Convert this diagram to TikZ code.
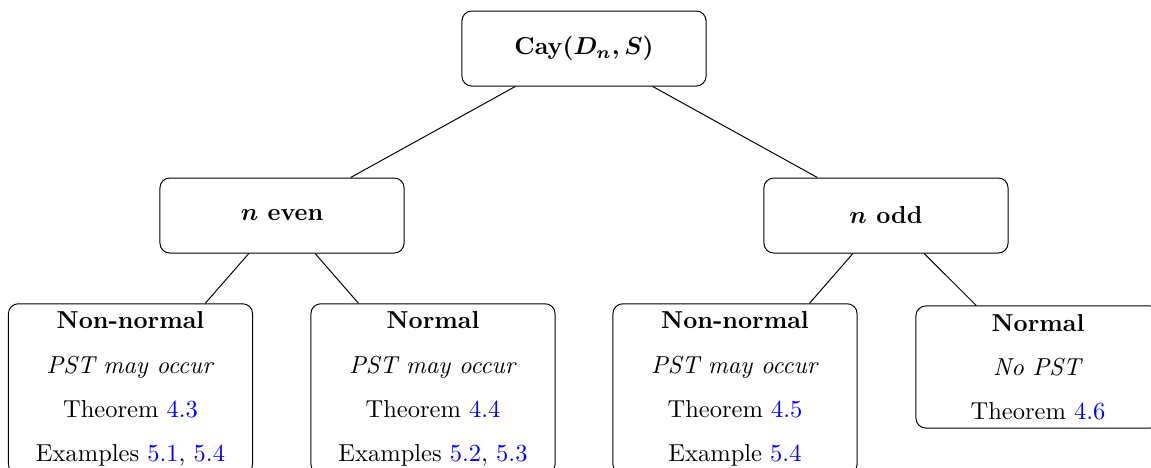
\documentclass[tikz,border=0pt]{standalone}
\usepackage{amsmath}
\begin{document}
\begin{tikzpicture}[x=0.408pt,y=-0.408pt,
  box/.style={draw, rounded corners=4pt, minimum width=99.6pt, align=center,
    font=\fontsize{10}{18}\selectfont, inner sep=3.33pt},
  hbox/.style={draw, rounded corners=4pt, minimum width=99.6pt, minimum height=30.6pt,
    align=center, font=\bfseries\boldmath},
  link/.style={draw, line width=0.4pt}]
\useasboundingbox (0,0) rectangle (1151,467);
\node[hbox] (root) at (584,48.5) {Cay$(D_n,S)$};
\node[hbox] (even) at (282,215.5) {$n$ even};
\node[hbox] (odd) at (886,215.5) {$n$ odd};
\node[box] (a) at (130.5,389) {\textbf{Non-normal}\\ \textit{PST may occur}\\ Theorem \textcolor{blue}{4.3}\\ Examples \textcolor{blue}{5.1}, \textcolor{blue}{5.4}};
\node[box] (b) at (433,389) {\textbf{Normal}\\ \textit{PST may occur}\\ Theorem \textcolor{blue}{4.4}\\ Examples \textcolor{blue}{5.2}, \textcolor{blue}{5.3}};
\node[box] (c) at (735,389) {\textbf{Non-normal}\\ \textit{PST may occur}\\ Theorem \textcolor{blue}{4.5}\\ Example \textcolor{blue}{5.4}};
\node[box] (d) at (1038,367) {\textbf{Normal}\\ \textit{No PST}\\ Theorem \textcolor{blue}{4.6}};
\path[link] (root) -- (even);
\path[link] (root) -- (odd);
\path[link] (even) -- (a);
\path[link] (even) -- (b);
\path[link] (odd) -- (c);
\path[link] (odd) -- (d);
\end{tikzpicture}
\end{document}
